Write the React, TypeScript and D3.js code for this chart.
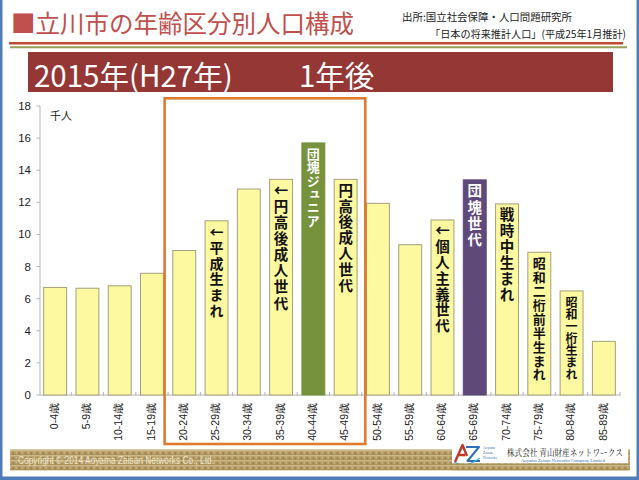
import React from "react";
import * as d3 from "d3";

// ---- data ----
const categories = [
  "0-4歳", "5-9歳", "10-14歳", "15-19歳", "20-24歳", "25-29歳", "30-34歳", "35-39歳", "40-44歳",
  "45-49歳", "50-54歳", "55-59歳", "60-64歳", "65-69歳", "70-74歳", "75-79歳", "80-84歳", "85-89歳",
];
const population = [6.7, 6.65, 6.8, 7.58, 9.0, 10.85, 12.83, 13.43, 15.7, 13.43, 11.94, 9.36, 10.9, 13.4, 11.9, 8.89, 6.48, 3.34];
const yTicks = [0, 2, 4, 6, 8, 10, 12, 14, 16, 18];
const generationCategories = ["25-29歳", "35-39歳", "40-44歳", "45-49歳", "60-64歳", "65-69歳", "70-74歳", "75-79歳", "80-84歳"];
const generationTexts = ["←平成生まれ", "←円高後成人世代", "団塊ジュニア", "円高後成人世代", "←個人主義世代", "団塊世代", "戦時中生まれ", "昭和二桁前半生まれ", "昭和一桁生まれ"];
const highlightRange = ["20-24歳", "45-49歳"];
const titleText = "■立川市の年齢区分別人口構成";
const sourceLine1 = "出所:国立社会保障・人口問題研究所";
const sourceLine2 = "「日本の将来推計人口」(平成25年1月推計)";
const bannerLeft = "2015年(H27年)";
const bannerRight = "1年後";
const unitLabel = "千人";
const copyright = "Copyright © 2014 Aoyama Zaisan Networks Co., Ltd.";
const companyName = "株式会社 青山財産ネットワークス";
const companyEn = "Aoyama Zaisan Networks Company Limited";

// ---- styles ----
const barFill: Record<string, string> = { "40-44歳": "#76923c", "65-69歳": "#5f497a" };
const labelStyle: Record<string, { size: number; pitch: number; color: string }> = {
  "25-29歳": { size: 14, pitch: 15.7, color: "#111" },
  "35-39歳": { size: 14.5, pitch: 16.1, color: "#111" },
  "40-44歳": { size: 13, pitch: 13.4, color: "#fff" },
  "45-49歳": { size: 14.5, pitch: 15.8, color: "#111" },
  "60-64歳": { size: 14.5, pitch: 15.8, color: "#111" },
  "65-69歳": { size: 14.5, pitch: 16.2, color: "#fff" },
  "70-74歳": { size: 14.5, pitch: 16, color: "#111" },
  "75-79歳": { size: 13, pitch: 13.9, color: "#111" },
  "80-84歳": { size: 12, pitch: 12.1, color: "#111" },
};
const JP = "'Noto Sans CJK JP', 'Noto Sans', sans-serif";
const SANS = "'Liberation Sans', Arial, sans-serif";

export default function App() {
  const W = 639, H = 480;
  const x = d3.scaleBand<string>().domain(categories).range([39, 620]).paddingInner(0.29).paddingOuter(0.145);
  const y = d3.scaleLinear().domain([0, 18]).range([395, 106]);
  const step = x.step();

  const hx0 = (x(highlightRange[0]) as number) - (step - x.bandwidth()) / 2 - 3.5;
  const hx1 = (x(highlightRange[1]) as number) + x.bandwidth() + (step - x.bandwidth()) / 2 + 3.5;

  return (
    <svg width={W} height={H} style={{ position: "absolute", left: 0, top: 0, background: "#fff" }}>
      <defs>
        <pattern id="burlap" width="6" height="5" patternUnits="userSpaceOnUse">
          <rect width="6" height="5" fill="#b49b64" />
          <rect x="0" y="0" width="6" height="1.3" fill="#d3c18f" opacity="0.8" />
          <rect x="0.5" y="2" width="1.6" height="3" fill="#8c7243" opacity="0.55" />
          <rect x="3.5" y="1.5" width="1.4" height="2.5" fill="#dccb9a" opacity="0.6" />
          <rect x="2.5" y="3.6" width="3" height="1" fill="#a0864f" opacity="0.6" />
        </pattern>
      </defs>
      <rect x={0} y={0} width={W} height={H} fill="#fff" />

      {/* Title */}
      <text x={11} y={33} fontFamily={JP} fontSize={24.5} fill="#c0504d">{titleText}</text>
      <text x={402} y={21} fontFamily={JP} fontSize={10.5} fill="#222" textLength={170} lengthAdjust="spacingAndGlyphs">{sourceLine1}</text>
      <text x={430} y={37.5} fontFamily={JP} fontSize={10.5} fill="#222" textLength={196} lengthAdjust="spacingAndGlyphs">{sourceLine2}</text>
      <line x1={9} x2={623} y1={43.3} y2={43.3} stroke="#bf4b3a" strokeWidth={2.6} />
      <line x1={10} x2={627} y1={47.2} y2={47.2} stroke="#99a05c" strokeWidth={2} />

      {/* Banner */}
      <rect x={28} y={52} width={585} height={40} fill="#953735" />
      <text x={34} y={86.5} fontFamily={JP} fontSize={29.5} fontWeight={400} fill="#fff">{bannerLeft}</text>
      <text x={299} y={86.5} fontFamily={JP} fontSize={29.5} fontWeight={400} fill="#fff">{bannerRight}</text>

      {/* Axes */}
      <line x1={40} x2={40} y1={y(18)} y2={y(0)} stroke="#b5b5b5" strokeWidth={1} />
      {yTicks.map((t) => (
        <g key={t}>
          <line x1={36.5} x2={40} y1={y(t)} y2={y(t)} stroke="#b5b5b5" />
          <text x={31} y={y(t)} dy="0.35em" textAnchor="end" fontFamily={SANS} fontSize={11.5} fill="#222">{t}</text>
        </g>
      ))}
      <text x={50} y={120} fontFamily={JP} fontSize={11} fill="#222">{unitLabel}</text>
      <line x1={40} x2={620} y1={y(0)} y2={y(0)} stroke="#b5b5b5" />
      {categories.map((c, i) => {
        const bx = (x(c) as number) + x.bandwidth() + (step - x.bandwidth()) / 2;
        return <line key={"t" + i} x1={bx} x2={bx} y1={y(0) - 3} y2={y(0) + 1} stroke="#b5b5b5" />;
      })}

      {/* Bars */}
      {categories.map((c, i) => (
        <rect
          key={c}
          x={x(c)}
          y={y(population[i])}
          width={x.bandwidth()}
          height={y(0) - y(population[i])}
          fill={barFill[c] || "#fdf9a0"}
          stroke={barFill[c] || "#a3a07a"}
          strokeWidth={1}
        />
      ))}

      {/* X labels */}
      {categories.map((c) => {
        const cx = (x(c) as number) + x.bandwidth() / 2 - 1;
        return (
          <text key={"xl" + c} transform={`translate(${cx},403) rotate(-90)`} textAnchor="end" dy="0.35em"
            fontFamily={SANS} fontSize={10.5} fill="#222">{c}</text>
        );
      })}

      {/* Generation labels (vertical writing) */}
      {generationCategories.map((c, k) => {
        const i = categories.indexOf(c);
        const st = labelStyle[c];
        const cx = (x(c) as number) + x.bandwidth() / 2;
        const top = y(population[i]);
        return (
          <text key={"g" + c} x={cx} y={top + 11 - st.size / 2}
            style={{ writingMode: "vertical-rl", textOrientation: "upright", letterSpacing: `${st.pitch - st.size}px` } as any}
            fontFamily={JP} fontWeight={700} fontSize={st.size} fill={st.color}>
            {generationTexts[k]}
          </text>
        );
      })}

      {/* Highlight box */}
      <rect x={hx0} y={98.3} width={hx1 - hx0} height={444 - 98.3} fill="none" stroke="#e07a30" strokeWidth={2.6} />

      {/* Footer */}
      <rect x={10} y={449.5} width={620} height={21} fill="url(#burlap)" />
      <text x={18} y={464} fontFamily={SANS} fontSize={10} fill="#f4ecd6" textLength={196} lengthAdjust="spacingAndGlyphs" opacity={0.9}>{copyright}</text>
      <rect x={452} y={443} width={176} height={20.5} fill="#fff" />
      {/* logo mark */}
      <path d="M455,462 L462.5,445 L467,456 M458.5,455 L465,455" fill="none" stroke="#c0392b" strokeWidth={2.4} strokeLinejoin="round" />
      <path d="M466,447 L479,447 L467.5,461 L480,461" fill="none" stroke="#2c6fb7" strokeWidth={2} strokeLinejoin="round" />
      <path d="M454,462 Q466,469 480,458" fill="none" stroke="#4aa3d8" strokeWidth={1.1} />
      <text x={483} y={449} fontFamily="'Liberation Serif', serif" fontSize={3.6} fill="#3b6fb0">Aoyama</text>
      <text x={483} y={454} fontFamily="'Liberation Serif', serif" fontSize={3.6} fill="#3b6fb0">Zaisan</text>
      <text x={483} y={459} fontFamily="'Liberation Serif', serif" fontSize={3.6} fill="#3b6fb0">Networks</text>
      <text transform="translate(507,456) scale(0.8,1)" fontFamily="'Noto Serif CJK JP', 'Noto Sans CJK JP', serif" fontSize={9.5} fill="#222">{companyName}</text>
      <text x={521} y={461.5} fontFamily="'Liberation Serif', serif" fontSize={4.5} fill="#3b6fb0" textLength={84} lengthAdjust="spacingAndGlyphs">{companyEn}</text>
      <rect x={452} y={463.5} width={176} height={7} fill="url(#burlap)" />

      {/* Frame */}
      <rect x={0} y={0} width={2.5} height={H} fill="#4e7dba" />
      <rect x={636.5} y={0} width={2.5} height={H} fill="#4e7dba" />
      <rect x={0} y={476.5} width={W} height={3.5} fill="#4e7dba" />
    </svg>
  );
}
